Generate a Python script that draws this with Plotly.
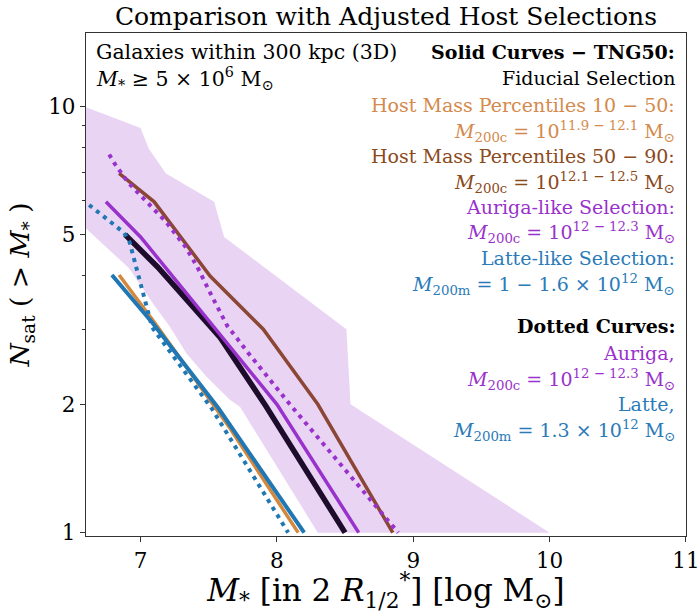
import math
import plotly.graph_objects as go

# ---------------- data ----------------
band_upper_x = [6.6, 7.0, 7.06, 7.186, 7.54, 7.613, 8.51, 8.54, 10.0]
band_upper_y = [9.95, 8.9, 7.96, 6.96, 5.97, 4.94, 3.0, 2.0, 1.0]
band_lower_x = [6.6, 6.916, 7.09, 7.215, 7.337, 7.484, 7.655, 7.73, 8.30]
band_lower_y = [5.17, 4.17, 3.45, 3.04, 2.63, 2.32, 2.05, 1.97, 1.0]

fid_x = [6.887, 7.125, 7.58, 7.92, 8.5]
fid_y = [5.0, 4.2, 2.88, 1.98, 1.0]

p1050_x = [6.843, 7.1, 7.655, 8.156]
p1050_y = [4.02, 3.12, 1.76, 1.0]

p5090_x = [6.843, 7.10, 7.51, 7.90, 8.30, 8.85]
p5090_y = [6.96, 5.97, 4.0, 3.0, 2.0, 1.0]

aurlike_x = [6.746, 7.0, 8.0, 8.6]
aurlike_y = [5.97, 4.94, 2.0, 1.0]

latlike_x = [6.79, 7.09, 7.57, 8.2]
latlike_y = [4.02, 3.1, 1.96, 1.0]

auriga_x = [6.77, 6.814, 6.905, 7.02, 7.186, 7.332, 7.418, 7.528, 7.635, 7.79, 7.99, 8.095, 8.89]
auriga_y = [7.71, 7.31, 6.65, 6.08, 5.36, 4.67, 4.19, 3.56, 3.06, 2.64, 2.2, 2.0, 1.0]

latte_x = [6.623, 6.88, 6.92, 7.085, 7.52, 8.083]
latte_y = [5.87, 5.05, 4.8, 3.03, 1.96, 1.0]

x_ticks = [7, 8, 9, 10, 11]
y_ticks = [1, 2, 5, 10]
y_minor = [3, 4, 6, 7, 8, 9]

# ---------------- style ----------------
FONT = "DejaVu Serif"
C_BAND = "#e9d5f3"
C_FID = "#1e0c2c"
C_ORANGE = "#d4883e"
C_ORANGE_T = "#d48a4c"
C_BROWN = "#8b4636"
C_BROWN_T = "#8b4a1c"
C_PURPLE = "#9932cc"
C_BLUE = "#1f77b4"
C_BLUE_T = "#2a7bb8"

fig = go.Figure()

fig.add_trace(go.Scatter(
    x=band_upper_x + band_lower_x[::-1],
    y=band_upper_y + band_lower_y[::-1],
    fill="toself", fillcolor=C_BAND, line=dict(width=0),
    mode="lines", hoverinfo="skip", showlegend=False))

def line(x, y, color, width, dash="solid"):
    fig.add_trace(go.Scatter(x=x, y=y, mode="lines",
                             line=dict(color=color, width=width, dash=dash),
                             showlegend=False))

line(p1050_x, p1050_y, C_ORANGE, 3.5)
line(fid_x, fid_y, C_FID, 5.5)
line(aurlike_x, aurlike_y, C_PURPLE, 3.5)
line(p5090_x, p5090_y, C_BROWN, 3.5)
line(latlike_x, latlike_y, C_BLUE, 4)
line(auriga_x, auriga_y, C_PURPLE, 4, "4px,5px")
line(latte_x, latte_y, C_BLUE, 4, "4px,5px")

# ---------------- text block ----------------
M200c = "<i>M</i><sub>200c</sub> = 10<sup>%s</sup> M<sub>⊙</sub>"
legend_lines = [
    ("<b>Solid Curves − TNG50:</b>", "black", 52),
    ("Fiducial Selection", "black", 78),
    ("Host Mass Percentiles 10 − 50:", C_ORANGE_T, 105),
    (M200c % "11.9 − 12.1", C_ORANGE_T, 131),
    ("Host Mass Percentiles 50 − 90:", C_BROWN_T, 155.5),
    (M200c % "12.1 − 12.5", C_BROWN_T, 182),
    ("Auriga-like Selection:", C_PURPLE, 207),
    (M200c % "12 − 12.3", C_PURPLE, 232.5),
    ("Latte-like Selection:", C_BLUE_T, 257.5),
    ("<i>M</i><sub>200m</sub> = 1 − 1.6 × 10<sup>12</sup> M<sub>⊙</sub>", C_BLUE_T, 284),
    ("<b>Dotted Curves:</b>", "black", 325.7),
    ("Auriga,", C_PURPLE, 352.5),
    (M200c % "12 − 12.3", C_PURPLE, 379),
    ("Latte,", C_BLUE_T, 403.5),
    ("<i>M</i><sub>200m</sub> = 1.3 × 10<sup>12</sup> M<sub>⊙</sub>", C_BLUE_T, 430.5),
]
TOP, BOT = 32.7, 536.0
H = BOT - TOP
for txt, col, py in legend_lines:
    fig.add_annotation(text=txt, xref="paper", yref="paper", x=1, y=(BOT - py) / H,
                       xanchor="right", yanchor="middle", xshift=-9, showarrow=False,
                       font=dict(family=FONT, size=19, color=col))

left_lines = [
    ("Galaxies within 300 kpc (3D)", 51.7),
    ("<i>M</i><sub>*</sub> ≥ 5 × 10<sup>6</sup> M<sub>⊙</sub>", 78),
]
for txt, py in left_lines:
    fig.add_annotation(text=txt, xref="paper", yref="paper", x=0, y=(BOT - py) / H,
                       xanchor="left", yanchor="middle", xshift=8, showarrow=False,
                       font=dict(family=FONT, size=20.5, color="black"))

fig.update_layout(
    width=698, height=613,
    margin=dict(l=86, r=12, t=33, b=77, autoexpand=False),
    paper_bgcolor="white", plot_bgcolor="white",
    font=dict(family=FONT, color="black"),
    title=dict(text="Comparison with Adjusted Host Selections", x=0.5, xref="paper",
               y=1 - 16 / 613, yref="container", yanchor="middle", xanchor="center",
               font=dict(family=FONT, size=25, color="black")),
    xaxis=dict(range=[6.6, 11.0005], tickvals=x_ticks, ticktext=[str(v) for v in x_ticks],
               ticks="outside", ticklen=5, tickwidth=1.2, tickcolor="#333",
               ticklabeloverflow="allow", automargin=False,
               showline=True, linecolor="#333", linewidth=1.3, mirror=True,
               showgrid=False, zeroline=False,
               tickfont=dict(family=FONT, size=21.5, color="black"),
               title=dict(text="<i>M</i><sub>*</sub> [in 2 <i>R</i><sub>1/2</sub><sup>*</sup>] [log M<sub>⊙</sub>]",
                          font=dict(family=FONT, size=31, color="black"), standoff=0)),
    yaxis=dict(type="log", range=[math.log10(0.982), math.log10(14.86)],
               tickvals=y_ticks, ticktext=[str(v) for v in y_ticks],
               ticks="outside", ticklen=5, tickwidth=1.2, tickcolor="#333",
               automargin=False,
               minor=dict(tickvals=y_minor, ticks="outside", ticklen=3, tickwidth=1, tickcolor="#333"),
               showline=True, linecolor="#333", linewidth=1.3, mirror=True,
               showgrid=False, zeroline=False,
               tickfont=dict(family=FONT, size=21.5, color="black"),
               title=dict(text="<i>N</i><sub>sat</sub> ( > <i>M</i><sub>*</sub> )",
                          font=dict(family=FONT, size=26.5, color="black"), standoff=10)),
)

fig.write_html("out.html")
